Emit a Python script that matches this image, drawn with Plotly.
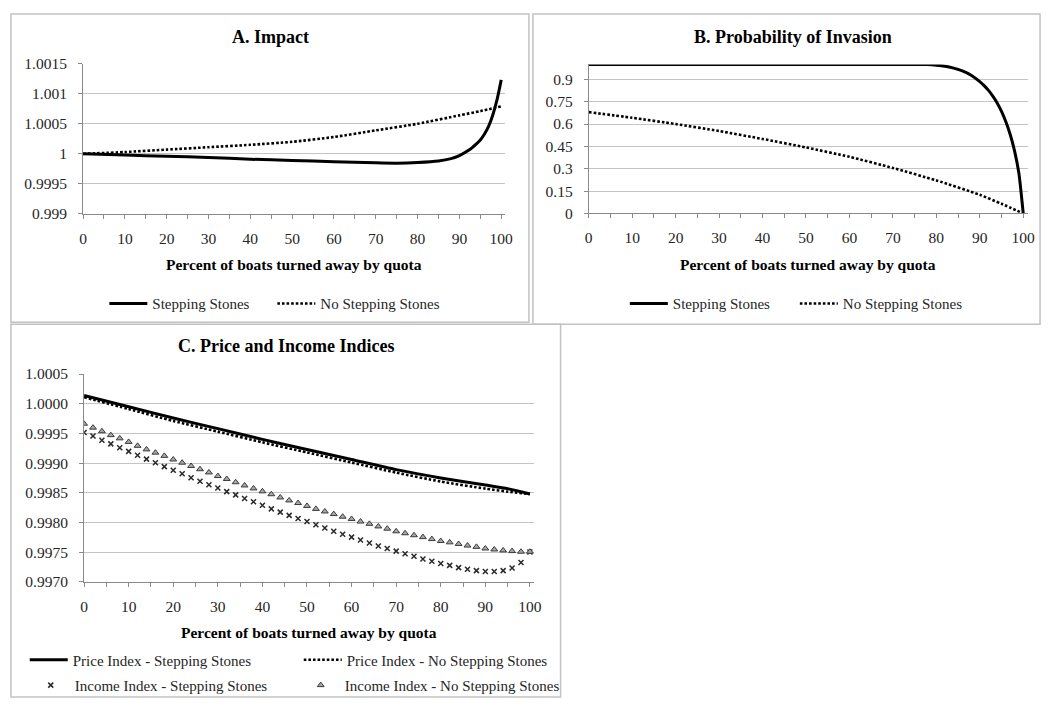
import plotly.graph_objects as go

W, H = 1051, 708
FONT = "Liberation Serif"
INK = "#262626"
GRID = "#c4c4c4"
AXIS = "#8a8a8a"

# ---------------- A. Impact ----------------
impact_x_ss = [0, 10, 20, 30, 40, 50, 60, 70, 75, 80, 85, 88, 90, 92, 93, 94, 95, 96, 97, 98, 99, 100]
impact_ss = [1.0, 0.99998, 0.99996, 0.99994, 0.99991, 0.99989, 0.99987, 0.99985, 0.999845,
             0.999855, 0.99988, 0.99992, 0.99997, 1.00005, 1.0001, 1.00016, 1.00023, 1.00033,
             1.00046, 1.00065, 1.0009, 1.00123]
impact_x_nss = [0, 10, 20, 30, 40, 50, 60, 70, 80, 90, 95, 100]
impact_nss = [1.0, 1.00003, 1.00007, 1.00011, 1.00015, 1.0002, 1.00028, 1.00039, 1.0005,
              1.00064, 1.00071, 1.00079]
impact_ticks = [0.999, 0.9995, 1.0, 1.0005, 1.001, 1.0015]
impact_ticktext = ["0.999", "0.9995", "1", "1.0005", "1.001", "1.0015"]

# ---------------- B. Probability of Invasion ----------------
prob_x_ss = [0, 10, 20, 30, 40, 50, 60, 70, 75, 78, 80, 82, 84, 86, 88, 90, 91, 92, 93, 94,
             95, 96, 97, 98, 99, 100]
prob_ss = [1.0, 1.0, 1.0, 1.0, 1.0, 1.0, 1.0, 1.0, 1.0, 0.999, 0.995, 0.988, 0.975, 0.957,
           0.928, 0.885, 0.858, 0.826, 0.788, 0.742, 0.685, 0.615, 0.53, 0.42, 0.27, 0.0]
prob_x_nss = [0, 10, 20, 30, 40, 50, 60, 70, 80, 90, 95, 100]
prob_nss = [0.68, 0.642, 0.6, 0.553, 0.5, 0.443, 0.38, 0.305, 0.222, 0.125, 0.065, 0.0]
prob_ticks = [0, 0.15, 0.3, 0.45, 0.6, 0.75, 0.9]
prob_ticktext = ["0", "0.15", "0.3", "0.45", "0.6", "0.75", "0.9"]

# ---------------- C. Price and Income Indices ----------------
price_x = [0, 10, 20, 30, 40, 50, 60, 70, 80, 90, 95, 100]
price_ss = [1.00014, 0.99995, 0.99976, 0.99958, 0.9994, 0.99923, 0.99906, 0.99889, 0.99875,
            0.99863, 0.99857, 0.99848]
price_nss = [1.00011, 0.99991, 0.99971, 0.99953, 0.99935, 0.99918, 0.99901, 0.99884, 0.99869,
             0.99857, 0.99852, 0.99848]
income_x = list(range(0, 101, 2))
income_ss = [0.999515, 0.999455, 0.999384, 0.999324, 0.999258, 0.999198, 0.999132, 0.999067,
             0.999006, 0.998941, 0.998881, 0.998821, 0.998755, 0.998695, 0.998635, 0.99858,
             0.99852, 0.998465, 0.998405, 0.99835, 0.99829, 0.99823, 0.998175, 0.99812,
             0.998066, 0.998016, 0.997962, 0.997907, 0.997852, 0.997803, 0.997754, 0.997704,
             0.997655, 0.997606, 0.997562, 0.997518, 0.997475, 0.997431, 0.997387, 0.997349,
             0.997311, 0.997278, 0.99724, 0.997212, 0.99719, 0.997174, 0.997174, 0.99719,
             0.997234, 0.997327, 0.997502]
income_nss = [0.999663, 0.999597, 0.999537, 0.999471, 0.999417, 0.999357, 0.999291, 0.999231,
              0.999176, 0.999122, 0.999061, 0.999007, 0.998952, 0.998897, 0.998843, 0.998782,
              0.998733, 0.998678, 0.998624, 0.998574, 0.998525, 0.998476, 0.998421, 0.998372,
              0.998328, 0.998279, 0.998229, 0.998186, 0.998142, 0.998098, 0.99806, 0.998016,
              0.997978, 0.997934, 0.997896, 0.997852, 0.997819, 0.997786, 0.997754, 0.997721,
              0.997688, 0.997666, 0.997639, 0.997612, 0.99759, 0.997562, 0.997546, 0.99753,
              0.997519, 0.997508, 0.997508]
price_ticks = [0.997, 0.9975, 0.998, 0.9985, 0.999, 0.9995, 1.0, 1.0005]
price_ticktext = ["0.9970", "0.9975", "0.9980", "0.9985", "0.9990", "0.9995", "1.0000", "1.0005"]

x_title = "Percent of boats turned away by quota"


def fx(p):
    return p / W


def fy(p):
    return 1 - p / H


solid = dict(color="black", width=3, shape="spline", smoothing=0.6)
dotted = dict(color="black", width=2.6, dash="2.6px,2px", shape="spline", smoothing=0.6)

fig = go.Figure()

fig.add_trace(go.Scatter(x=impact_x_ss, y=impact_ss, mode="lines", line=solid,
                         name="Stepping Stones", xaxis="x", yaxis="y", legend="legend"))
fig.add_trace(go.Scatter(x=impact_x_nss, y=impact_nss, mode="lines", line=dotted,
                         name="No Stepping Stones", xaxis="x", yaxis="y", legend="legend"))

fig.add_trace(go.Scatter(x=prob_x_ss, y=prob_ss, mode="lines", line=solid, cliponaxis=False,
                         name="Stepping Stones", xaxis="x2", yaxis="y2", legend="legend2"))
fig.add_trace(go.Scatter(x=prob_x_nss, y=prob_nss, mode="lines", line=dotted, cliponaxis=False,
                         name="No Stepping Stones", xaxis="x2", yaxis="y2", legend="legend2"))

fig.add_trace(go.Scatter(x=price_x, y=price_ss, mode="lines", line=solid,
                         name="Price Index - Stepping Stones", xaxis="x3", yaxis="y3",
                         legend="legend3"))
fig.add_trace(go.Scatter(x=price_x, y=price_nss, mode="lines", line=dotted,
                         name="Price Index - No Stepping Stones", xaxis="x3", yaxis="y3",
                         legend="legend3"))
fig.add_trace(go.Scatter(x=income_x, y=income_ss, mode="markers",
                         marker=dict(symbol="x-thin", size=5, color="#2a2a2a",
                                     line=dict(color="#2a2a2a", width=1.5)),
                         name="Income Index - Stepping Stones", xaxis="x3", yaxis="y3",
                         legend="legend4"))
fig.add_trace(go.Scatter(x=income_x, y=income_nss, mode="markers",
                         marker=dict(symbol="triangle-up", size=6, color="#a8a8a8",
                                     line=dict(color="#3a3a3a", width=1)),
                         name="Income Index - No Stepping Stones", xaxis="x3", yaxis="y3",
                         legend="legend4"))

TICK_FONT = dict(family=FONT, size=15.5, color=INK)


def xax(dom, anchor):
    return dict(domain=dom, anchor=anchor, range=[0, 101], tickmode="linear", tick0=0, dtick=10,
                ticks="outside", ticklen=4, tickcolor=AXIS, showline=True, linecolor=AXIS,
                linewidth=1, showgrid=False, zeroline=False, ticklabelstandoff=6,
                tickfont=TICK_FONT,
                minor=dict(dtick=5, tick0=0, ticks="outside", ticklen=4, tickcolor=AXIS,
                           showgrid=False))


def yax(dom, anchor, rng, vals, text):
    return dict(domain=dom, anchor=anchor, range=rng, tickmode="array", tickvals=vals,
                ticktext=text, ticks="outside", ticklen=4, tickcolor=AXIS, showline=True,
                linecolor=AXIS, linewidth=1, showgrid=True, gridcolor=GRID, gridwidth=1.4,
                zeroline=False, ticklabelstandoff=8, tickfont=TICK_FONT)


leg_common = dict(orientation="h", xanchor="left", yanchor="middle", itemwidth=38,
                  bgcolor="rgba(0,0,0,0)", font=dict(family=FONT, size=15, color=INK),
                  entrywidthmode="pixels", itemclick=False, itemdoubleclick=False)

fig.update_layout(
    width=W, height=H, margin=dict(l=0, r=0, t=0, b=0),
    paper_bgcolor="white", plot_bgcolor="white", showlegend=True,
    xaxis=xax([fx(80), fx(507.2)], "y"),
    yaxis=yax([fy(210), fy(56)], "x", [0.999, 1.0015], impact_ticks, impact_ticktext),
    xaxis2=xax([fx(591.5), fx(1035.4)], "y2"),
    yaxis2=yax([fy(209.5), fy(56.8)], "x2", [0, 1], prob_ticks, prob_ticktext),
    xaxis3=xax([fx(81), fx(536.5)], "y3"),
    yaxis3=yax([fy(587), fy(374)], "x3", [0.997, 1.0005], price_ticks, price_ticktext),
    legend=dict(leg_common, x=fx(101.5), y=fy(302), entrywidth=115),
    legend2=dict(leg_common, x=fx(628), y=fy(302), entrywidth=117),
    legend3=dict(leg_common, x=fx(21), y=fy(667), entrywidth=221),
    legend4=dict(leg_common, x=fx(23), y=fy(693), entrywidth=217),
)

# Chart frames
for x0, y0, x1, y1 in [(7, 5, 531, 321), (535, 5, 1048, 323), (7, 323, 563, 705)]:
    fig.add_shape(type="rect", xref="paper", yref="paper", x0=fx(x0), x1=fx(x1),
                  y0=fy(y1), y1=fy(y0), line=dict(color="#c2c2c2", width=1.5), layer="below")

# Titles
for text, cx, cy in [("A. Impact", 269.5, 29), ("B. Probability of Invasion", 798, 29),
                     ("C. Price and Income Indices", 285.5, 345)]:
    fig.add_annotation(text="<b>%s</b>" % text, xref="paper", yref="paper", x=fx(cx), y=fy(cy),
                       showarrow=False, xanchor="center", yanchor="middle",
                       font=dict(family=FONT, size=18, color="black"))

for cx, cy in [(293.5, 262), (813, 262), (309, 639)]:
    fig.add_annotation(text="<b>%s</b>" % x_title, xref="paper", yref="paper", x=fx(cx),
                       y=fy(cy), showarrow=False, xanchor="center", yanchor="middle",
                       font=dict(family=FONT, size=15.5, color="black"))

fig.write_html("out.html")
